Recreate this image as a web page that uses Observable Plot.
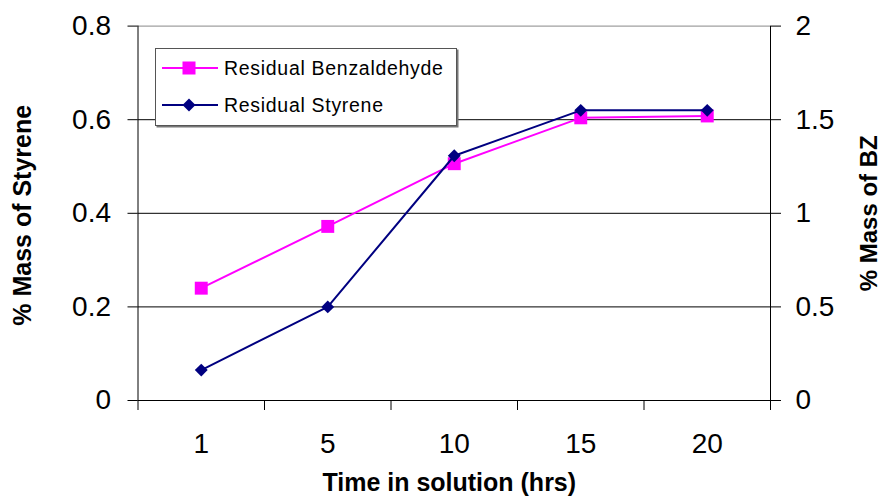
<!DOCTYPE html>
<html>
<head>
<meta charset="utf-8">
<script src="https://cdn.jsdelivr.net/npm/d3@7"></script>
<script src="https://cdn.jsdelivr.net/npm/@observablehq/plot@0.6"></script>
<style>
  html, body { margin: 0; padding: 0; background: #fff; }
  #wrap { position: relative; width: 883px; height: 501px; overflow: hidden; font-family: "Liberation Sans", Arial, sans-serif; }
  #legend { position: absolute; left: 155px; top: 48px; }
  .ls text { letter-spacing: 0.7px; }
</style>
</head>
<body>
<div id="wrap"></div>
<script>
// ---- data ----
const times = ["1", "5", "10", "15", "20"];
const styrene = [0.065, 0.2, 0.523, 0.62, 0.62];          // left axis (% Mass of Styrene)
const benzaldehyde = [0.6, 0.93, 1.265, 1.51, 1.52];      // right axis (% Mass of BZ)
const leftTicks = [0, 0.2, 0.4, 0.6, 0.8];
const rightTicks = [0, 0.5, 1, 1.5, 2];
const seriesNames = ["Residual Benzaldehyde", "Residual Styrene"];
const xTitle = "Time in solution (hrs)";
const yLeftTitle = "% Mass of Styrene";
const yRightTitle = "% Mass of BZ";

const ratio = 0.8 / 2; // left units per right unit
const rows = times.map((t, i) => ({pos: i + 1, time: t, styrene: styrene[i], bz: benzaldehyde[i] * ratio}));
const magenta = "#FF00FF", navy = "#000080";
const fmt = d3.format("~g");

const chart = Plot.plot({
  width: 883,
  height: 501,
  marginLeft: 137.5,
  marginRight: 113,
  marginTop: 25.6,
  marginBottom: 101,
  style: {fontFamily: "'Liberation Sans', Arial, sans-serif", background: "white", color: "black"},
  x: {type: "linear", domain: [0.5, times.length + 0.5]},
  y: {domain: [0, 0.8]},
  marks: [
    Plot.ruleY([0.2, 0.4, 0.6], {stroke: "black", strokeWidth: 1}),
    Plot.ruleY([0.8], {stroke: "#888", strokeWidth: 1}),
    Plot.ruleY([0], {stroke: "black", strokeWidth: 1}),
    Plot.ruleX([0.5, times.length + 0.5], {stroke: "black", strokeWidth: 1}),
    // x axis: category boundary ticks + centered labels
    Plot.axisX({ticks: d3.range(0.5, times.length + 1, 1), tickSize: 10, tickFormat: () => "", label: null}),
    Plot.axisX({ticks: times.map((t, i) => i + 1), tickSize: 0, tickPadding: 33, tickFormat: i => times[i - 1], fontSize: 28, label: null}),
    // left axis
    Plot.axisY({anchor: "left", ticks: leftTicks, tickSize: 10, tickPadding: 17, tickFormat: fmt, fontSize: 28, label: null}),
    // right axis (BZ)
    Plot.axisY({anchor: "right", ticks: rightTicks.map(t => t * ratio), tickSize: 10, tickPadding: 15,
                tickFormat: d => fmt(+(d / ratio).toFixed(3)), fontSize: 28, label: null}),
    // axis titles
    Plot.text([xTitle], {frameAnchor: "bottom", textAnchor: "middle", dx: -5, dy: 90, fontSize: 25, fontWeight: "bold"}),
    Plot.text([yLeftTitle], {frameAnchor: "left", textAnchor: "middle", lineAnchor: "middle", dx: -115.5, dy: 2, rotate: -90, fontSize: 25, fontWeight: "bold"}),
    Plot.text([yRightTitle], {frameAnchor: "right", textAnchor: "middle", lineAnchor: "middle", dx: 99, dy: 0, rotate: -90, fontSize: 24, fontWeight: "bold"}),
    // series
    Plot.line(rows, {x: "pos", y: "bz", stroke: magenta, strokeWidth: 2}),
    Plot.dot(rows, {x: "pos", y: "bz", symbol: "square", r: 7.3, fill: magenta, stroke: "none"}),
    Plot.line(rows, {x: "pos", y: "styrene", stroke: navy, strokeWidth: 2}),
    Plot.dot(rows, {x: "pos", y: "styrene", symbol: "diamond2", r: 5.8, fill: navy, stroke: "none"})
  ]
});

const wrap = document.getElementById("wrap");
wrap.appendChild(chart);

// legend (inside plot area)
const lw = 302, lh = 78;
const leg = d3.select(wrap).append("svg").attr("id", "legend").attr("class", "ls")
  .attr("width", lw + 2).attr("height", lh + 2);
leg.append("rect").attr("x", 1.5).attr("y", 1.5).attr("width", lw).attr("height", lh).attr("fill", "#777");
leg.append("rect").attr("x", 0.5).attr("y", 0.5).attr("width", lw - 1).attr("height", lh - 1)
  .attr("fill", "white").attr("stroke", "#555").attr("stroke-width", 1);
const items = [
  {name: seriesNames[0], color: magenta, sym: "square", cy: 20},
  {name: seriesNames[1], color: navy, sym: "diamond", cy: 57}
];
items.forEach(it => {
  leg.append("line").attr("x1", 7).attr("x2", 63).attr("y1", it.cy).attr("y2", it.cy)
    .attr("stroke", it.color).attr("stroke-width", 2);
  if (it.sym === "square") {
    leg.append("rect").attr("x", 34 - 6.5).attr("y", it.cy - 6.5).attr("width", 13).attr("height", 13).attr("fill", it.color);
  } else {
    leg.append("path").attr("d", `M34,${it.cy - 6.5}L40.5,${it.cy}L34,${it.cy + 6.5}L27.5,${it.cy}Z`).attr("fill", it.color);
  }
  leg.append("text").attr("x", 69).attr("y", it.cy).attr("dy", "0.35em")
    .attr("font-family", "'Liberation Sans', Arial, sans-serif").attr("font-size", 19.5).attr("fill", "black").text(it.name);
});
</script>
</body>
</html>
